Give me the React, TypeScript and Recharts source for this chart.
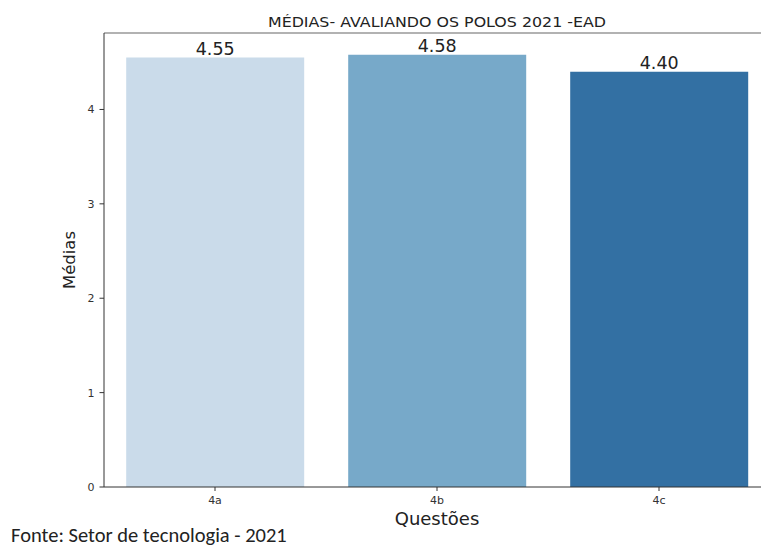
import React from "react";
import { BarChart, Bar, XAxis, YAxis, Cell, LabelList, Label, ReferenceLine } from "recharts";

const categories = ["4a", "4b", "4c"];
const medias = [4.55, 4.58, 4.4];
const barColors = ["#cadbea", "#77a9c9", "#3370a3"];
const yTicks = [0, 1, 2, 3, 4];
const yMax = 4.81;
const titleText = "MÉDIAS- AVALIANDO OS POLOS 2021 -EAD";
const xLabel = "Questões";
const yLabel = "Médias";
const sourceText = "Fonte: Setor de tecnologia - 2021";

const data = categories.map((c, i) => ({ q: c, v: medias[i] }));

const FONT = "DejaVu Sans";

export default function App() {
  return (
    <div style={{ position: "absolute", left: 0, top: 0, width: 761, height: 546, overflow: "hidden", background: "#fff" }}>
      <BarChart
        width={790}
        height={546}
        data={data}
        margin={{ top: 33, right: 20, left: 0, bottom: 0 }}
        barCategoryGap="10%"
        style={{ fontFamily: FONT }}
      >
        <XAxis
          dataKey="q"
          height={59}
          tick={{ fill: "#333", fontSize: 11, fontFamily: FONT }}
          tickSize={4}
          tickMargin={5}
          axisLine={{ stroke: "#333" }}
          tickLine={{ stroke: "#333" }}
        >
          <Label value={xLabel} position="insideBottom" offset={21} fill="#222" fontSize={18} fontFamily={FONT} />
        </XAxis>
        <YAxis
          width={104}
          domain={[0, yMax]}
          ticks={yTicks}
          allowDataOverflow
          tick={{ fill: "#333", fontSize: 11, fontFamily: FONT }}
          tickSize={4.5}
          tickMargin={5}
          axisLine={{ stroke: "#333" }}
          tickLine={{ stroke: "#333" }}
        >
          <Label value={yLabel} angle={-90} position="insideLeft" offset={69} fill="#222" fontSize={16.5} fontFamily={FONT} style={{ textAnchor: "middle" }} />
        </YAxis>
        <ReferenceLine y={yMax} stroke="#666" strokeWidth={1.2} ifOverflow="extendDomain" />
        <Bar dataKey="v" isAnimationActive={false}>
          {data.map((d, i) => (
            <Cell key={d.q} fill={barColors[i]} />
          ))}
          <LabelList
            dataKey="v"
            position="top"
            offset={3}
            fill="#222"
            fontSize={17.5}
            fontFamily={FONT}
            formatter={(v: number) => v.toFixed(2)}
          />
        </Bar>
      </BarChart>
      <svg
        width={761}
        height={546}
        style={{ position: "absolute", left: 0, top: 0, pointerEvents: "none" }}
      >
        <text
          x={437}
          y={26.5}
          textAnchor="middle"
          fontFamily={FONT}
          fontSize={14.5}
          fill="#222"
          textLength={338}
          lengthAdjust="spacingAndGlyphs"
        >
          {titleText}
        </text>
        <text x={11} y={541.5} fontFamily="Carlito" fontSize={20.5} fill="#222">
          {sourceText}
        </text>
      </svg>
    </div>
  );
}
